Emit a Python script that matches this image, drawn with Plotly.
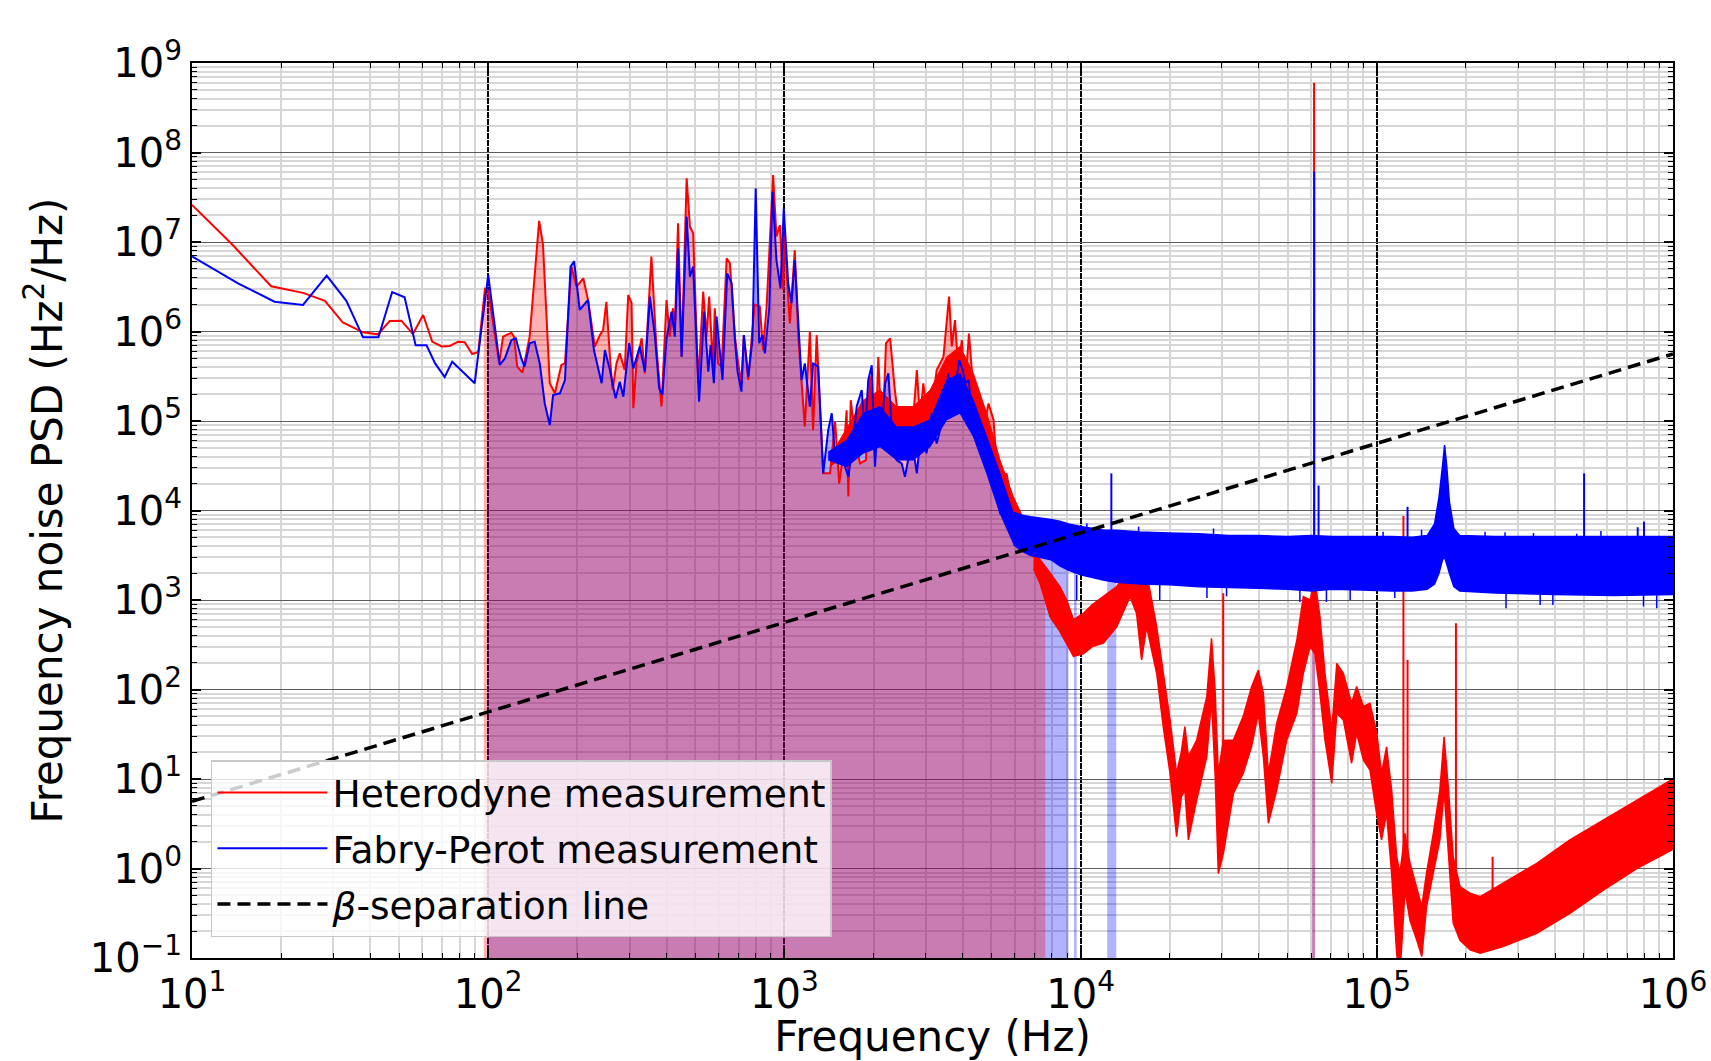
import numpy as np
import plotly.graph_objects as go

# ------------------------------------------------------------------ data
# Heterodyne measurement (resolved part, Hz / Hz^2/Hz)
het_f = [10, 13.7, 18.5, 23.7, 28.1, 32.3, 37.8, 42.4, 46.5, 50.9, 55.7, 60.3, 64.7, 69.6, 74.2, 79.2, 83.3,
         88.3, 92.6, 97.5, 100,
         108.9, 112.2, 119.7, 122.2, 125.3, 130.6, 138, 148.6, 153.1, 161.4, 167.9, 176.6, 181.6, 191, 198.6,
         209.4, 217.3, 229.1, 238.2, 244.3, 250.6, 257.6, 263, 271, 278, 289, 297, 304.8, 309, 316.7, 329.6,
         338, 355.6, 369.8, 384.6, 400, 410, 420.7, 426.6, 437.5, 449.8, 467.7, 479.8, 492, 511.7, 532, 545.8,
         557.2, 574.1, 582, 597, 613.8, 638.3, 654.6, 680.8, 698.2, 716, 729.5, 755, 774.5, 794, 826, 847,
         871, 916, 940, 966, 991, 1000, 1043, 1084, 1114, 1143, 1172, 1219, 1250, 1285, 1318,
         1352, 1426, 1483, 1531, 1589, 1622, 1644, 1675, 1730, 1799, 1884, 1945, 2023, 2075, 2138, 2203, 2275,
         2360, 2455, 2588, 2692, 2800, 2871, 2944, 3062, 3184, 3266, 3443, 3532, 3597, 3673, 3767, 3864, 3972,
         4074, 4198, 4345, 4550, 4699, 4887, 5082, 5212, 5346, 5623, 5929, 6081, 6412, 6934]
het_p = [2.6e7, 9.3e6, 3.2e6, 2.7e6, 2.2e6, 1.26e6, 9.8e5, 9.3e5, 1.31e6, 1.32e6, 9.4e5, 1.53e6, 7.7e5, 6.8e5,
         6.9e5, 7.7e5, 7.6e5, 5.6e5, 5.9e5, 3.0e6, 2.86e6,
         4.4e5, 8.75e5, 9.7e5, 8.75e5, 4.05e5, 3.47e5, 8.75e5, 1.72e7, 9.3e6, 2.64e5, 2.04e5, 4.23e5, 4.4e5,
         5.3e6, 3.17e6, 3.93e6, 2.25e6, 6.76e5, 9.1e5, 1.04e6, 2.15e6, 5.24e5, 2.22e5, 4.4e5, 5.7e5, 3.72e5,
         2.56e6, 2.07e6, 1.39e5, 4.4e5, 8.4e5, 3.41e5, 6.86e6, 6.76e5, 1.45e5, 2.25e6, 8.75e5, 1.82e6, 1.04e6,
         1.62e7, 5.24e5, 5.14e7, 1.48e7, 1.25e7, 2.64e5, 2.79e6, 8.75e5, 2.45e6, 4.05e5, 1.82e6, 4.4e5, 4.05e5,
         6.58e6, 5.78e6, 8.75e5, 4.4e5, 2.64e5, 9.1e5, 2.87e5, 8.0e5, 2.0e6, 1.9e6, 6.2e5, 1.9e6, 5.6e7, 1.15e7,
         1.55e7, 2.91e6, 1.25e7, 1.23e6, 8.1e6, 8.75e5, 2.64e5, 8.65e4, 9.95e5, 7.9e4, 9.1e5, 1.45e5,
         2.6e4, 2.6e4, 9.8e4, 2.0e4, 4.94e4, 1.32e5, 1.43e4, 1.71e5, 6.7e4, 3.36e4, 3.66e4, 3.13e5, 3.66e4,
         5.2e5, 5.2e4, 7.4e5, 8.4e5, 2.2e5, 7.9e4, 1.12e5, 6.7e4, 3.7e5, 1.03e5, 2.63e5, 9.4e4, 1.87e5, 3.7e5,
         5.2e5, 1.23e6, 2.45e6, 6.8e5, 1.34e6, 3.7e5, 8.0e5, 2.22e5, 9.5e5, 2.22e5, 2.04e5, 7.9e4, 1.57e5,
         1.03e5, 3.1e4, 2.2e4, 2.6e4, 1.0e4, 4.7e3, 4.0e3, 3.05e3]

# Heterodyne dense core between 1.4 kHz and 7 kHz (upper / lower)
het_core_f = [1426, 1845, 2104, 2393, 2723, 3105, 3532, 3917, 4345, 4819, 5346, 5929, 6934]
het_core_hi = [4.0e4, 1.71e5, 2.22e5, 1.45e5, 1.45e5, 2.22e5, 5.2e5, 6.8e5, 3.4e5, 1.22e5, 3.66e4, 1.43e4, 4.7e3]
het_core_lo = [3.08e4, 6.1e4, 7.3e4, 6.1e4, 6.7e4, 1.03e5, 2.04e5, 2.42e5, 1.22e5, 5.16e4, 1.55e4, 5.5e3, 3.05e3]

# Heterodyne measurement, dense-noise band above 7 kHz (upper / lower envelope)
het_band_f = [6934, 7295, 7889, 8511, 8974, 9462, 10210, 10960, 11940, 13240, 14690, 15450, 16070, 16710, 18070,
              19010, 20040, 21090, 21880, 22490, 23120, 24660, 26670, 27670, 28440, 29170, 30340, 32810, 35400,
              37760, 39810, 41400, 43050, 45920, 49660, 53700, 56490, 59570, 61800, 64270, 66830, 70470, 73280,
              77090, 82220, 85510, 90160, 94840, 100000, 103750, 107900, 112200, 116700, 119700, 124500, 129400,
              136500, 141900, 147200, 155200, 163300, 168700, 174600, 181100, 191000, 206500, 223400, 267300,
              346700, 448700, 582100, 755100, 990800, 1000000]
het_band_hi = [3550, 2800, 2000, 1413, 1000, 603, 708, 891, 1096, 1413, 2259, 2188, 2000, 2000, 501, 151, 45.7,
               11.6, 20, 38.5, 17.8, 27.3, 83.2, 373, 100, 11.6, 26.9, 27.3, 50.1, 107, 165, 90.8, 11.6, 41.7,
               107, 355, 1091, 1000, 1675, 652, 152, 35.3, 196, 152, 70.1, 108, 64.6, 70.1, 32.4, 11.6, 22.9,
               7.53, 1.35, 0.89, 2.47, 1.15, 0.575, 0.375, 0.89, 2.47, 7.53, 29.7, 7.53, 1.35, 0.627, 0.528,
               0.484, 0.682, 1.14, 2.09, 3.48, 5.83, 9.75, 10]
het_band_lo = [2240, 1535, 646, 447, 328, 234, 251, 302, 331, 501, 1091, 708, 214, 501, 151, 38.5, 11.6, 2.27,
               6.3, 7.55, 2.09, 5.83, 17.8, 76.4, 11.6, 0.88, 1.48, 6.92, 11.6, 22.9, 54.2, 17.8, 3.2, 7.53,
               27.3, 54.2, 152, 302, 251, 90.8, 27.3, 8.95, 54.2, 45.7, 15, 32.4, 16.2, 12.6, 3.98, 2.09, 4.14,
               0.89, 0.112, 0.063, 0.575, 0.263, 0.158, 0.104, 0.372, 0.89, 2.09, 7.55, 1.35, 0.245, 0.158,
               0.123, 0.113, 0.134, 0.189, 0.316, 0.575, 1.0, 1.61, 1.7]

# Heterodyne narrow spikes
het_spike_f = [30300, 61400, 123000, 127000, 185000, 246000]
het_spike_base = [20, 300, 1, 1, 1, 0.5]
het_spike_top = [1190, 6.0e8, 8.7e3, 214, 550, 1.35]

# Fabry-Perot measurement (resolved part)
fp_f = [10, 14.3, 19.0, 23.7, 28.5, 33.2, 37.8, 42.6, 47.4, 52.2, 56.9, 61.9, 66.2, 71.3, 75.6, 90.0,
        100, 105.2, 109.4, 113.8, 119.7, 123.9, 129.4, 132.7, 138, 143.5, 149.3, 155.2, 161.4, 165.6, 174.6,
        181.6, 189.7, 195, 203.7, 217.3, 227.5, 241.5, 247.7, 257.6, 269.2, 278, 285.8, 299.2, 309, 325, 338,
        351.6, 365.6, 377.6, 387.3, 400, 415.9, 426.6, 437.5, 449.8, 467.7, 479.8, 492, 515.2, 535.8, 553.4,
        563.6, 578, 590.2, 618, 641.2, 663.7, 680.8, 695, 716, 729.5, 755, 780, 800, 822, 843, 859, 889, 912,
        940, 970, 995, 1030, 1057, 1084, 1114, 1143, 1172, 1219, 1250, 1300,
        1352, 1406, 1445, 1483, 1542, 1603, 1644, 1710, 1754, 1824, 1871, 1919, 1972, 2023, 2075, 2128, 2188,
        2244, 2301, 2393, 2489, 2553, 2692, 2800, 2904, 3020, 3141, 3266, 3396, 3483, 3573, 3673, 3767, 3890,
        4000, 4083, 4188, 4285, 4406, 4571, 4753, 4943, 5140, 5346, 5623, 5929]
fp_p = [6.9e6, 3.45e6, 2.15e6, 1.98e6, 4.2e6, 2.2e6, 8.6e5, 8.6e5, 2.76e6, 2.41e6, 7.0e5, 7.0e5, 4.4e5, 3.1e5,
        4.6e5, 2.64e5,
        4.28e6, 1.23e6, 4.23e5, 5.0e5, 8.0e5, 8.4e5, 5.0e5, 4.05e5, 7.4e5, 7.7e5, 4.4e5, 1.57e5, 9.0e4, 1.95e5,
        2.04e5, 2.87e5, 5.3e6, 6.1e6, 1.74e6, 2.25e6, 6.2e5, 2.64e5, 6.2e5, 3.72e5, 1.79e5, 2.75e5, 1.87e5,
        7.4e5, 3.87e5, 6.8e5, 3.56e5, 2.45e6, 8.75e5, 2.32e5, 1.95e5, 8.4e5, 1.67e6, 8.75e5, 8.5e6, 5.24e5,
        1.92e7, 4.1e6, 5.3e6, 1.64e5, 1.67e6, 3.56e5, 7.06e5, 2.64e5, 1.47e6, 2.87e5, 4.47e6, 3.45e6, 8.0e5,
        3.56e5, 2.13e5, 9.1e5, 3.13e5, 8.0e5, 3.98e7, 7.4e5, 9.1e5, 5.7e5, 1.82e6, 3.65e7, 6.3e6, 3.03e6,
        2.38e7, 3.45e6, 2.07e6, 6.3e6, 1.47e6, 2.87e5, 4.4e5, 1.45e5, 4.4e5, 4.05e5,
        2.6e4, 7.9e4, 1.22e5, 4.0e4, 5.2e4, 3.08e4, 2.38e4, 6.1e4, 1.45e5, 2.22e5, 6.7e4, 2.87e5, 4.2e5,
        3.08e4, 1.45e5, 7.3e4, 2.63e5, 3.4e5, 8.6e4, 3.66e4, 3.36e4, 2.38e4, 6.1e4, 2.6e4, 8.6e4, 4.35e4,
        1.22e5, 5.6e4, 9.4e4, 1.57e5, 3.4e5, 1.22e5, 2.22e5, 4.8e5, 3.7e5, 2.63e5, 2.87e5, 1.32e5, 7.3e4,
        5.6e4, 4.35e4, 2.38e4, 1.85e4, 9.3e3, 9.3e3, 6.6e3]

# Fabry-Perot dense core between 1.4 kHz and 6 kHz (upper / lower)
fp_core_f = [1406, 1622, 1845, 2104, 2393, 2723, 3105, 3532, 3917, 4345, 4819, 5346, 5929]
fp_core_hi = [4.5e4, 6.1e4, 1.22e5, 1.45e5, 8.6e4, 8.6e4, 1.03e5, 2.87e5, 3.4e5, 1.71e5, 6.7e4, 2.6e4, 9.3e3]
fp_core_lo = [3.66e4, 3.08e4, 4.35e4, 5.16e4, 3.66e4, 3.66e4, 5.16e4, 1.03e5, 1.22e5, 6.7e4, 2.6e4, 9.3e3, 4.3e3]

# Fabry-Perot dense-noise band above 6 kHz (upper / lower envelope)
fp_band_f = [5929, 6310, 6761, 7244, 7943, 8511, 9120, 10000, 10960, 12020, 13180, 15850, 19950, 25120, 31620,
             39810, 50120, 60260, 70790, 89130, 112200, 131800, 147900, 156700, 162200, 166700, 169400, 172200,
             175800, 182000, 190500, 251200, 398100, 631000, 1000000]
fp_band_hi = [9550, 8910, 8510, 8320, 7940, 7590, 7080, 6610, 6310, 6030, 6030, 5750, 5620, 5500, 5250, 5250,
              5130, 5250, 5130, 5130, 5130, 5010, 5250, 7080, 14100, 31600, 53700, 31600, 12600, 6310, 5250,
              5130, 5130, 5130, 5130]
fp_band_lo = [4170, 3550, 3160, 3020, 2820, 2400, 2140, 1910, 1780, 1660, 1580, 1510, 1480, 1410, 1380, 1350,
              1320, 1260, 1320, 1290, 1260, 1260, 1320, 1510, 2000, 2820, 3020, 2630, 2000, 1410, 1260, 1200,
              1150, 1120, 1150]

# Fabry-Perot narrow spikes
fp_spike_f = [12700, 61500, 63600, 127000, 501000, 760000, 798000]
fp_spike_base = [4000, 4000, 4000, 4000, 4000, 4000, 4000]
fp_spike_top = [2.6e4, 6.1e7, 1.9e4, 1.1e4, 2.6e4, 6.5e3, 7.5e3]

# Fabry-Perot outliers on the edges of the noise band (from / to)
fp_out_f = [10500, 15700, 28100, 105000, 141600, 232000, 271000, 338000, 473000, 571000,
            9700, 18500, 26700, 31100, 55000, 67600, 81300, 115000, 273000, 356000, 393000, 795000, 881000]
fp_out_a = [6000, 5500, 5300, 5100, 5100, 5100, 5100, 5100, 5100, 5100,
            1900, 1500, 1400, 1380, 1330, 1300, 1300, 1280, 1200, 1170, 1160, 1130, 1130]
fp_out_b = [7200, 6600, 6300, 5800, 6100, 5800, 5700, 5600, 5500, 5900,
            1000, 1000, 1050, 1100, 950, 950, 1000, 1050, 810, 880, 880, 850, 810]

# beta-separation line (8 ln2 / pi^2 * f)
beta_f = [10, 1e6]
beta_p = [5.62, 5.62e5]

# frequency spans where each PSD lies above the beta-line (shaded areas)
het_fill_spans = [(96.6, 7600), (60500, 61900)]
fp_fill_spans = [(99.6, 9100), (9500, 9700), (12300, 13200), (60500, 61900)]

x_tickvals = [1e1, 1e2, 1e3, 1e4, 1e5, 1e6]
x_ticktext = ["10<sup>1</sup>", "10<sup>2</sup>", "10<sup>3</sup>", "10<sup>4</sup>", "10<sup>5</sup>",
              "10<sup>6</sup>"]
y_tickvals = [1e-1, 1e0, 1e1, 1e2, 1e3, 1e4, 1e5, 1e6, 1e7, 1e8, 1e9]
y_ticktext = ["10<sup>\u22121</sup>", "10<sup>0</sup>", "10<sup>1</sup>", "10<sup>2</sup>", "10<sup>3</sup>",
              "10<sup>4</sup>", "10<sup>5</sup>", "10<sup>6</sup>", "10<sup>7</sup>", "10<sup>8</sup>",
              "10<sup>9</sup>"]


# ------------------------------------------------------------------ helpers
def full_curve(f, p, bf, blo):
    cut = f[-1]
    xs = list(f) + [a for a in bf if a > cut]
    ys = list(p) + [b for a, b in zip(bf, blo) if a > cut]
    return np.array(xs, float), np.array(ys, float)


def span_polys(xs, ys, spans, floor=1e-3):
    lx, ly = np.log10(xs), np.log10(ys)
    px, py = [], []
    for f0, f1 in spans:
        l0, l1 = np.log10(f0), np.log10(f1)
        y0 = 10 ** np.interp(l0, lx, ly)
        y1 = 10 ** np.interp(l1, lx, ly)
        m = (lx > l0) & (lx < l1)
        px += [f0] + list(xs[m]) + [f1, f1, f0, None]
        py += [y0] + list(ys[m]) + [y1, floor, floor, None]
    return px, py


def band_poly(bf, hi, lo):
    return list(bf) + list(bf[::-1]), list(hi) + list(lo[::-1])


def segments(sf, a, b):
    x, y = [], []
    for f, u, v in zip(sf, a, b):
        x += [f, f, None]
        y += [u, v, None]
    return x, y


RED = "#ff0000"
BLUE = "#0000ff"
FONT = "DejaVu Sans"

fig = go.Figure()


def add_band(bf, hi, lo, color, lw=1.5):
    x, y = band_poly(bf, hi, lo)
    fig.add_trace(go.Scatter(x=x, y=y, mode="lines", fill="toself", fillcolor=color,
                             line=dict(color=color, width=lw), showlegend=False, hoverinfo="skip"))


def add_segments(sf, a, b, color, lw=2):
    x, y = segments(sf, a, b)
    fig.add_trace(go.Scatter(x=x, y=y, mode="lines", line=dict(color=color, width=lw),
                             showlegend=False, hoverinfo="skip"))


# shaded areas (blue first, red on top -> purple overlap)
bx, by = full_curve(fp_f, fp_p, fp_band_f, fp_band_lo)
px, py = span_polys(bx, by, fp_fill_spans)
fig.add_trace(go.Scatter(x=px, y=py, mode="lines", fill="toself", fillcolor="rgba(0,0,255,0.3)",
                         line=dict(width=0), showlegend=False, hoverinfo="skip"))
rx, ry = full_curve(het_f, het_p, het_band_f, het_band_lo)
px, py = span_polys(rx, ry, het_fill_spans)
fig.add_trace(go.Scatter(x=px, y=py, mode="lines", fill="toself", fillcolor="rgba(255,0,0,0.3)",
                         line=dict(width=0), showlegend=False, hoverinfo="skip"))

# heterodyne
add_band(het_core_f, het_core_hi, het_core_lo, RED, 1)
add_band(het_band_f, het_band_hi, het_band_lo, RED)
add_segments(het_spike_f, het_spike_base, het_spike_top, RED)
fig.add_trace(go.Scatter(x=het_f, y=het_p, mode="lines", line=dict(color=RED, width=2),
                         name="Heterodyne measurement", legendgroup="a"))

# Fabry-Perot
add_band(fp_core_f, fp_core_hi, fp_core_lo, BLUE, 1)
add_band(fp_band_f, fp_band_hi, fp_band_lo, BLUE)
add_segments(fp_out_f, fp_out_a, fp_out_b, BLUE, 1.5)
add_segments(fp_spike_f, fp_spike_base, fp_spike_top, BLUE)
fig.add_trace(go.Scatter(x=fp_f, y=fp_p, mode="lines", line=dict(color=BLUE, width=2),
                         name="Fabry-Perot measurement", legendgroup="b"))

# beta line
fig.add_trace(go.Scatter(x=beta_f, y=beta_p, mode="lines",
                         line=dict(color="black", width=3.5, dash="13px,7px"),
                         name="<i>\u03b2</i>-separation line", legendgroup="c"))

x_minor = [k * 10 ** d for d in range(1, 6) for k in range(2, 10)]
y_minor = [k * 10.0 ** d for d in range(-1, 9) for k in range(2, 10)]

common = dict(type="log", showline=True, linecolor="black", linewidth=2, mirror="allticks",
              ticks="inside", ticklen=9, tickwidth=1.5, tickcolor="black", zeroline=False,
              tickfont=dict(family=FONT, size=40, color="black"), showgrid=True)

fig.update_xaxes(range=[1, 6], tickmode="array", tickvals=x_tickvals, ticktext=x_ticktext,
                 gridcolor="black", gridwidth=1.6, griddash="6px,1px",
                 minor=dict(tickmode="array", tickvals=x_minor, ticks="inside", ticklen=5, tickwidth=1,
                            tickcolor="black", showgrid=True, gridcolor="#d6d6d6", gridwidth=1.5,
                            griddash="solid"),
                 title=dict(text="Frequency (Hz)", font=dict(family=FONT, size=42, color="black"), standoff=18),
                 **common)
fig.update_yaxes(range=[-1, 9], tickmode="array", tickvals=y_tickvals, ticktext=y_ticktext,
                 gridcolor="#5c5c5c", gridwidth=1.2, griddash="solid",
                 minor=dict(tickmode="array", tickvals=y_minor, ticks="inside", ticklen=5, tickwidth=1,
                            tickcolor="black", showgrid=True, gridcolor="#d6d6d6", gridwidth=1.5,
                            griddash="solid"),
                 title=dict(text="Frequency noise PSD (Hz<sup>2</sup>/Hz)",
                            font=dict(family=FONT, size=42, color="black"), standoff=14),
                 **common)

fig.update_layout(
    width=1711, height=1061,
    margin=dict(l=192, r=38, t=63, b=103, autoexpand=False),
    paper_bgcolor="white", plot_bgcolor="white",
    font=dict(family=FONT, color="black"),
    legend=dict(x=0.0128, y=0.2212, xanchor="left", yanchor="top",
                bgcolor="rgba(255,255,255,0.8)", bordercolor="#c8c8c8", borderwidth=1.5,
                font=dict(family=FONT, size=37.5, color="black"), itemwidth=110, tracegroupgap=4),
    showlegend=True,
)

fig.write_html("out.html")
